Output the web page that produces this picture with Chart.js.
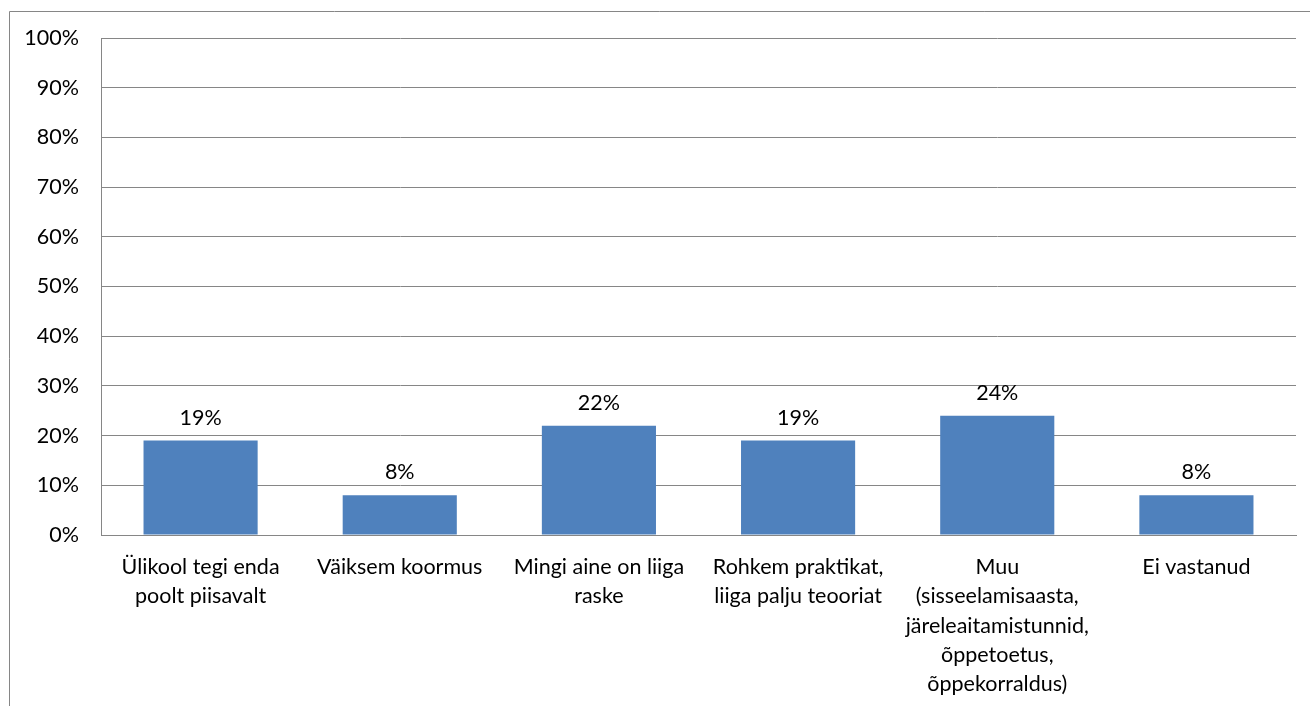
<!DOCTYPE html>
<html>
<head>
<meta charset="utf-8">
<script src="https://cdn.jsdelivr.net/npm/chart.js@4"></script>
<style>
html,body{margin:0;padding:0;background:#fff;}
#wrap{position:relative;width:1310px;height:706px;}
</style>
</head>
<body>
<div id="wrap"><canvas id="c" width="1310" height="706"></canvas></div>
<script>
const categories = [
  ["Ülikool tegi enda", "poolt piisavalt"],
  "Väiksem koormus",
  ["Mingi aine on liiga", "raske"],
  ["Rohkem praktikat,", "liiga palju teooriat"],
  ["Muu", "(sisseelamisaasta,", "järeleaitamistunnid,", "õppetoetus,", "õppekorraldus)"],
  "Ei vastanud"
];
const values = [19, 8, 22, 19, 24, 8];
const valueLabels = ["19%", "8%", "22%", "19%", "24%", "8%"];
const yTicks = [0, 10, 20, 30, 40, 50, 60, 70, 80, 90, 100];

const FONT = "Lato, 'Open Sans', sans-serif";

const framePlugin = {
  id: 'frame',
  beforeDraw(chart) {
    const ctx = chart.ctx;
    ctx.save();
    ctx.fillStyle = '#fff';
    ctx.fillRect(0, 0, chart.width, chart.height);
    ctx.strokeStyle = '#868686';
    ctx.lineWidth = 1;
    ctx.beginPath();
    ctx.moveTo(9.5, chart.height);
    ctx.lineTo(9.5, 11.5);
    ctx.lineTo(chart.width, 11.5);
    ctx.stroke();
    ctx.restore();
  }
};

const labelPlugin = {
  id: 'valLabels',
  afterDatasetsDraw(chart) {
    const ctx = chart.ctx;
    const meta = chart.getDatasetMeta(0);
    ctx.save();
    ctx.fillStyle = '#000';
    ctx.font = "21.5px " + FONT;
    ctx.textAlign = 'center';
    ctx.textBaseline = 'middle';
    meta.data.forEach((bar, i) => {
      ctx.fillText(valueLabels[i], bar.x, bar.y - 23);
    });
    ctx.restore();
  }
};

new Chart(document.getElementById('c'), {
  type: 'bar',
  data: {
    labels: categories,
    datasets: [{
      data: values,
      backgroundColor: '#4F81BD',
      borderWidth: 0,
      barPercentage: 0.573,
      categoryPercentage: 1.0
    }]
  },
  options: {
    responsive: false,
    animation: false,
    devicePixelRatio: 1,
    layout: { padding: { top: 38, right: 14, left: 0, bottom: 0 } },
    plugins: { legend: { display: false }, tooltip: { enabled: false } },
    scales: {
      x: {
        grid: { display: false, drawTicks: false },
        border: { display: true, color: '#868686', width: 1 },
        ticks: {
          color: '#000',
          font: { family: FONT, size: 21.5, lineHeight: 1.35 },
          padding: 18,
          maxRotation: 0,
          autoSkip: false
        },
        afterFit(scale) { scale.height = 171; }
      },
      y: {
        min: 0,
        max: 100,
        afterBuildTicks(scale) { scale.ticks = yTicks.map(v => ({ value: v })); },
        grid: { color: '#868686', lineWidth: 1, drawTicks: false },
        border: { display: true, color: '#868686', width: 1 },
        ticks: {
          color: '#000',
          font: { family: FONT, size: 21.5 },
          padding: 22,
          callback: v => v + '%'
        },
        afterFit(scale) { scale.width = 101; }
      }
    }
  },
  plugins: [framePlugin, labelPlugin]
});
</script>
</body>
</html>
